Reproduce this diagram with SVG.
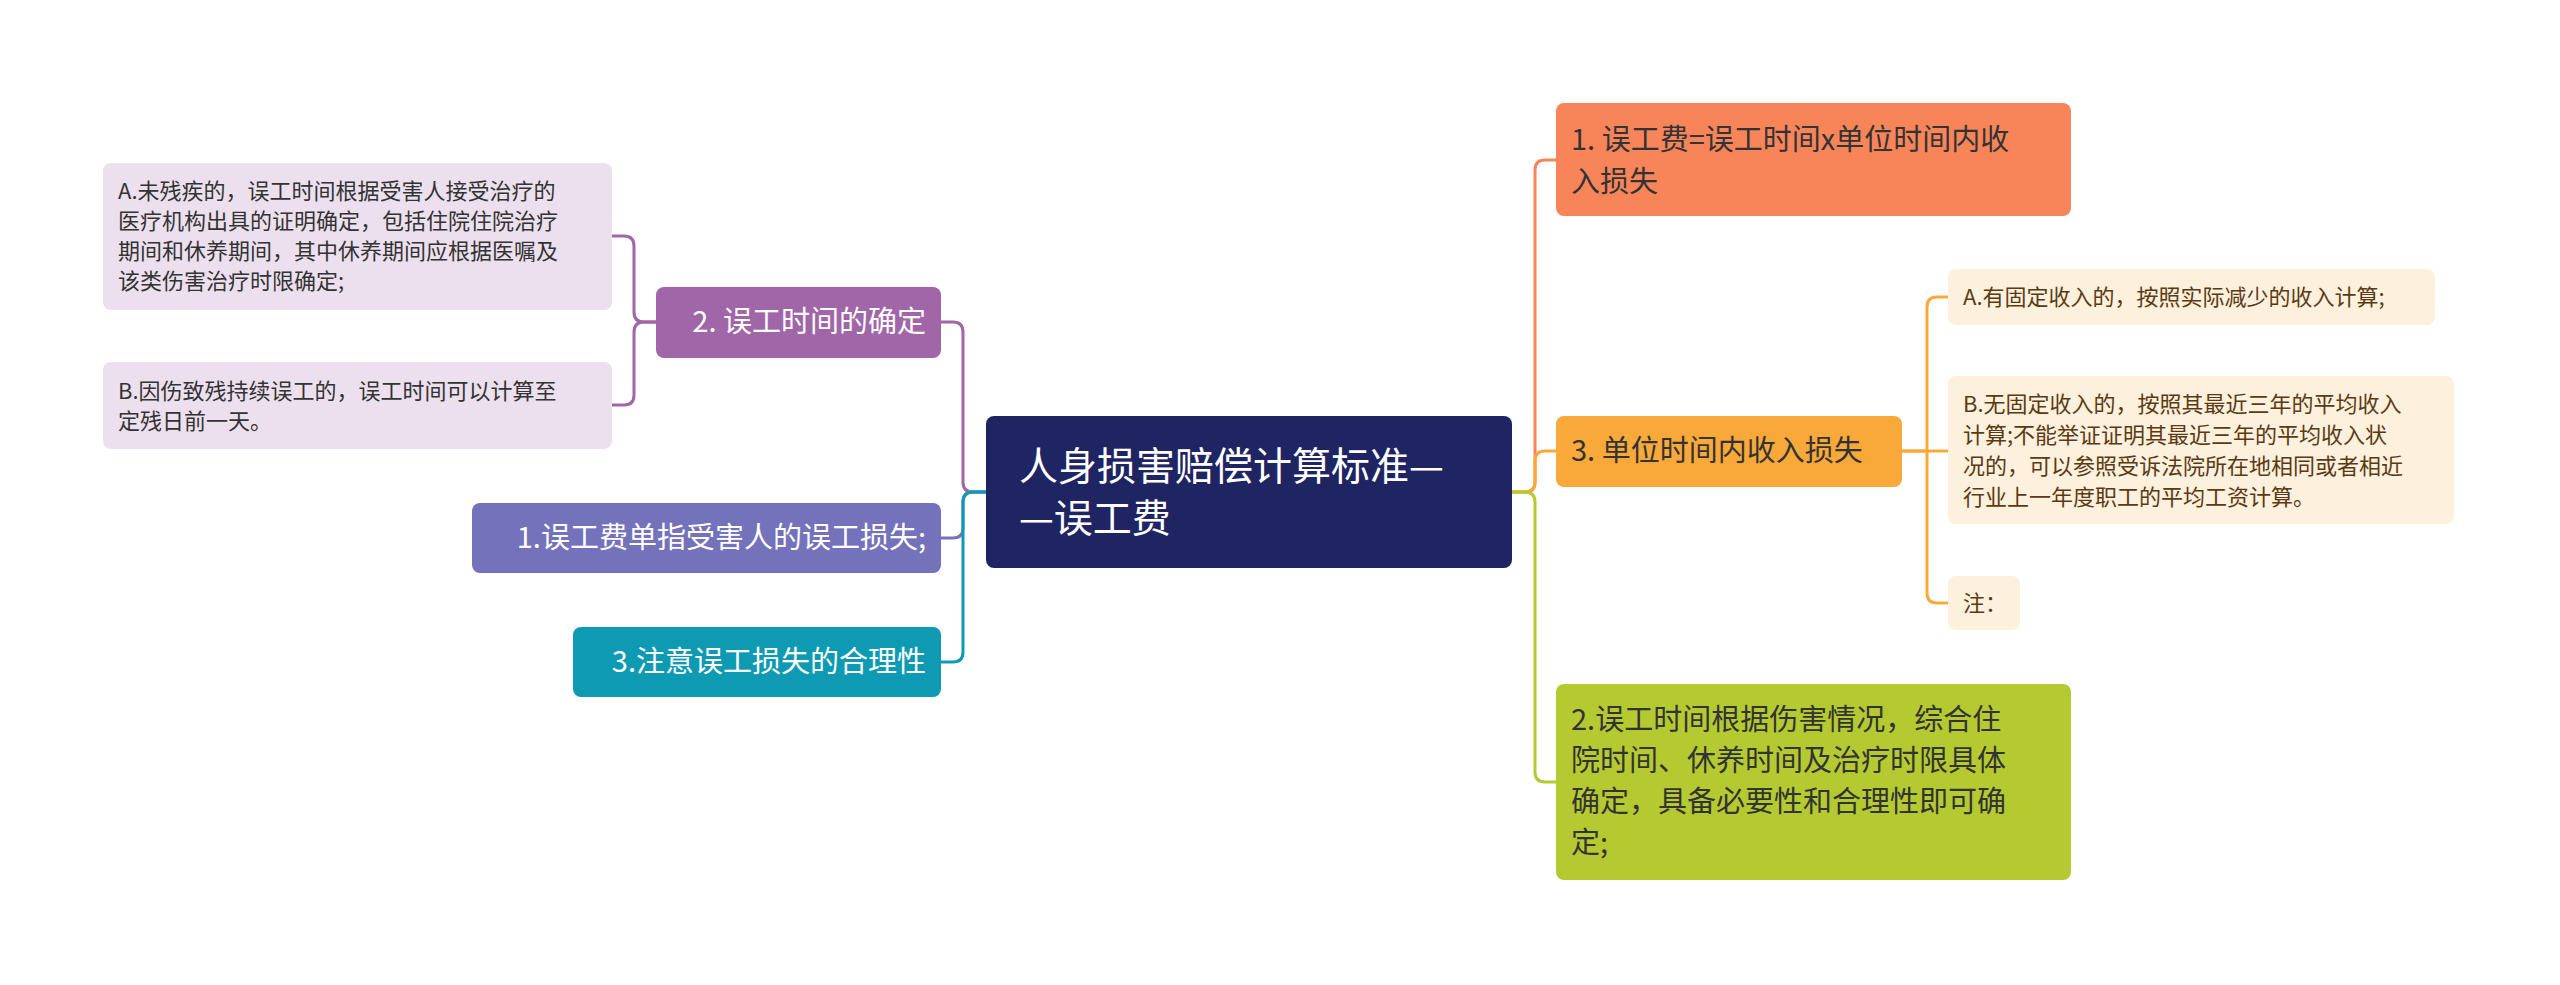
<svg xmlns="http://www.w3.org/2000/svg" width="2560" height="985" viewBox="0 0 2560 985">
<style>
text{font-family:"Noto Sans CJK SC","Liberation Sans",sans-serif;}
.big{font-size:29px;}
.sm{font-size:22px;fill:#333;}
.w{fill:#fff;}
.d{fill:#333;}
.sd{fill:#5a3a14;font-size:22px;}
path{fill:none;stroke-width:3;}
</style>
<rect width="2560" height="985" fill="#fff"/>
<g id="connectors">
<path d="M986 492 H973 Q963 492 963 482 V332 Q963 322 953 322 H941" stroke="#a066a8"/>
<path d="M986 492 H973 Q963 492 963 502 V528 Q963 538 953 538 H941" stroke="#7472bb"/>
<path d="M986 492 H973 Q963 492 963 502 V652 Q963 662 953 662 H941" stroke="#0e9ab3"/>
<path d="M656 322 H644 Q634 322 634 312 V246 Q634 236 624 236 H612" stroke="#a066a8"/>
<path d="M656 322 H644 Q634 322 634 332 V395 Q634 405 624 405 H612" stroke="#a066a8"/>
<path d="M1512 492 H1525 Q1535 492 1535 482 V170 Q1535 160 1545 160 H1556" stroke="#f8845a"/>
<path d="M1512 492 H1525 Q1535 492 1535 482 V461 Q1535 451 1545 451 H1556" stroke="#f9a93a"/>
<path d="M1512 492 H1525 Q1535 492 1535 502 V772 Q1535 782 1545 782 H1556" stroke="#b5c930"/>
<path d="M1902 451 H1927 V307 Q1927 297 1937 297 H1948" stroke="#f9a93a"/>
<path d="M1902 451 H1948" stroke="#f9a93a"/>
<path d="M1927 451 V593 Q1927 603 1937 603 H1948" stroke="#f9a93a"/>
</g>
<g id="center">
<rect x="986" y="416" width="526" height="152" rx="8" fill="#1f2563"/>
<text x="1019" y="480" class="w" font-size="39">人身损害赔偿计算标准—</text>
<text x="1019" y="532" class="w" font-size="39">—误工费</text>
</g>
<g id="n2">
<rect x="656" y="287" width="285" height="71" rx="8" fill="#a066a8"/>
<text x="926" y="332" class="big w" text-anchor="end">2. 误工时间的确定</text>
</g>
<g id="n2a">
<rect x="103" y="163" width="509" height="147" rx="8" fill="#ece0ee"/>
<text x="118" y="199" class="sm">A.未残疾的，误工时间根据受害人接受治疗的</text>
<text x="118" y="229" class="sm">医疗机构出具的证明确定，包括住院住院治疗</text>
<text x="118" y="259" class="sm">期间和休养期间，其中休养期间应根据医嘱及</text>
<text x="118" y="289" class="sm">该类伤害治疗时限确定;</text>
</g>
<g id="n2b">
<rect x="103" y="362" width="509" height="87" rx="8" fill="#ece0ee"/>
<text x="118" y="399" class="sm">B.因伤致残持续误工的，误工时间可以计算至</text>
<text x="118" y="429" class="sm">定残日前一天。</text>
</g>
<g id="n1">
<rect x="472" y="503" width="469" height="70" rx="8" fill="#7472bb"/>
<text x="926" y="548" class="big w" text-anchor="end">1.误工费单指受害人的误工损失;</text>
</g>
<g id="n3">
<rect x="573" y="627" width="368" height="70" rx="8" fill="#0e9ab3"/>
<text x="926" y="672" class="big w" text-anchor="end">3.注意误工损失的合理性</text>
</g>
<g id="r1">
<rect x="1556" y="103" width="515" height="113" rx="8" fill="#f8845a"/>
<text x="1571" y="150" class="big d">1. 误工费=误工时间x单位时间内收</text>
<text x="1571" y="192" class="big d">入损失</text>
</g>
<g id="r3">
<rect x="1556" y="416" width="346" height="71" rx="8" fill="#f9a93a"/>
<text x="1571" y="461" class="big d">3. 单位时间内收入损失</text>
</g>
<g id="r3a">
<rect x="1948" y="269" width="487" height="56" rx="8" fill="#fdf0dc"/>
<text x="1963" y="305" class="sd">A.有固定收入的，按照实际减少的收入计算;</text>
</g>
<g id="r3b">
<rect x="1948" y="376" width="506" height="148" rx="8" fill="#fdf0dc"/>
<text x="1963" y="412" class="sd">B.无固定收入的，按照其最近三年的平均收入</text>
<text x="1963" y="443" class="sd">计算;不能举证证明其最近三年的平均收入状</text>
<text x="1963" y="474" class="sd">况的，可以参照受诉法院所在地相同或者相近</text>
<text x="1963" y="505" class="sd">行业上一年度职工的平均工资计算。</text>
</g>
<g id="r3c">
<rect x="1948" y="576" width="72" height="54" rx="8" fill="#fdf0dc"/>
<text x="1963" y="611" class="sd">注：</text>
</g>
<g id="r2">
<rect x="1556" y="684" width="515" height="196" rx="8" fill="#b5c930"/>
<text x="1571" y="730" class="big d">2.误工时间根据伤害情况，综合住</text>
<text x="1571" y="771" class="big d">院时间、休养时间及治疗时限具体</text>
<text x="1571" y="812" class="big d">确定，具备必要性和合理性即可确</text>
<text x="1571" y="853" class="big d">定;</text>
</g>
</svg>
